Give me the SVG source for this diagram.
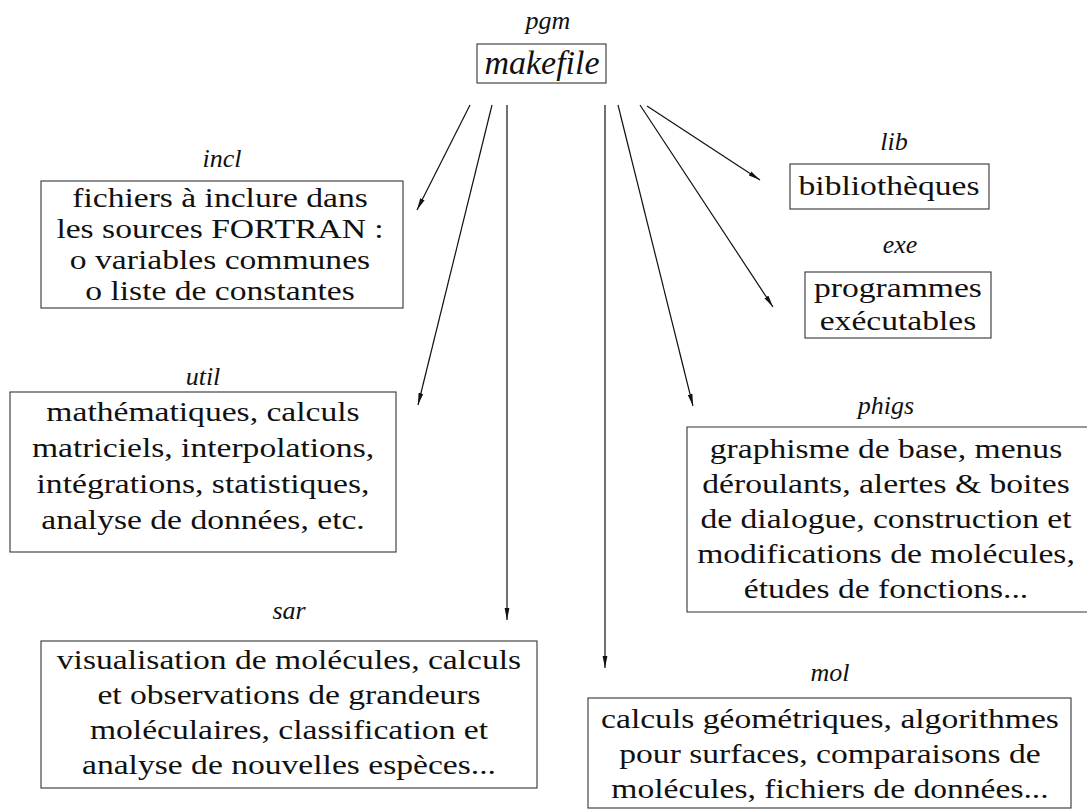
<svg xmlns="http://www.w3.org/2000/svg" width="1087" height="810" viewBox="0 0 1087 810">
<defs>
<marker id="ah" viewBox="0 0 12 6" refX="12" refY="3" markerWidth="12" markerHeight="6" markerUnits="userSpaceOnUse" orient="auto">
<path d="M0,0.6 L12,3 L0,5.4 Z" fill="#111"/>
</marker>
<style>
.box{fill:none;stroke:#333;stroke-width:1.1}
.lbl{font-family:"Liberation Serif",serif;font-style:italic;font-size:26px;fill:#111;text-anchor:middle}
.txt{font-family:"Liberation Serif",serif;font-size:28px;fill:#111;text-anchor:middle}
.big{font-family:"Liberation Serif",serif;font-style:italic;font-size:34px;fill:#111;text-anchor:middle}
.con{fill:none;stroke:#111;stroke-width:1.2;marker-end:url(#ah)}
</style>
</defs>
<rect width="1087" height="810" fill="#fff"/>
<g id="connectors">
<line class="con" x1="470" y1="105" x2="417" y2="210"/>
<line class="con" x1="492" y1="105" x2="418" y2="405"/>
<line class="con" x1="507" y1="105" x2="507" y2="620"/>
<line class="con" x1="605" y1="105" x2="605" y2="668"/>
<line class="con" x1="618" y1="105" x2="693" y2="406"/>
<line class="con" x1="640" y1="105" x2="773" y2="307"/>
<line class="con" x1="647" y1="106" x2="760" y2="180"/>
</g>
<g id="pgm">
<text class="lbl" x="548" y="29">pgm</text>
<rect class="box" x="477" y="44" width="129" height="39"/>
<text class="big" x="542" y="74">makefile</text>
</g>
<g id="incl">
<text class="lbl" x="222" y="167">incl</text>
<rect class="box" x="41" y="181" width="362" height="127"/>
<g transform="translate(220,0) scale(1.2,1)">
<text class="txt" x="0" y="207">fichiers à inclure dans</text>
<text class="txt" x="0" y="238">les sources FORTRAN :</text>
<text class="txt" x="0" y="269">o variables communes</text>
<text class="txt" x="0" y="300">o liste de constantes</text>
</g>
</g>
<g id="util">
<text class="lbl" x="203" y="385">util</text>
<rect class="box" x="10" y="392" width="386" height="160"/>
<g transform="translate(203,0) scale(1.2,1)">
<text class="txt" x="0" y="421">mathématiques, calculs</text>
<text class="txt" x="0" y="457">matriciels, interpolations,</text>
<text class="txt" x="0" y="493">intégrations, statistiques,</text>
<text class="txt" x="0" y="529">analyse de données, etc.</text>
</g>
</g>
<g id="sar">
<text class="lbl" x="289" y="619">sar</text>
<rect class="box" x="41" y="641" width="496" height="147"/>
<g transform="translate(289,0) scale(1.2,1)">
<text class="txt" x="0" y="669">visualisation de molécules, calculs</text>
<text class="txt" x="0" y="704">et observations de grandeurs</text>
<text class="txt" x="0" y="739">moléculaires, classification et</text>
<text class="txt" x="0" y="774">analyse de nouvelles espèces...</text>
</g>
</g>
<g id="lib">
<text class="lbl" x="894" y="150">lib</text>
<rect class="box" x="790" y="164" width="199" height="45"/>
<g transform="translate(889,0) scale(1.2,1)">
<text class="txt" x="0" y="195">bibliothèques</text>
</g>
</g>
<g id="exe">
<text class="lbl" x="900" y="253">exe</text>
<rect class="box" x="805" y="272" width="186" height="66"/>
<g transform="translate(898,0) scale(1.2,1)">
<text class="txt" x="0" y="297">programmes</text>
<text class="txt" x="0" y="330">exécutables</text>
</g>
</g>
<g id="phigs">
<text class="lbl" x="886" y="414">phigs</text>
<path class="box" d="M1090,427 H687 V612 H1090"/>
<g transform="translate(886,0) scale(1.2,1)">
<text class="txt" x="0" y="458">graphisme de base, menus</text>
<text class="txt" x="0" y="493">déroulants, alertes &amp; boites</text>
<text class="txt" x="0" y="528">de dialogue, construction et</text>
<text class="txt" x="0" y="563">modifications de molécules,</text>
<text class="txt" x="0" y="598">études de fonctions...</text>
</g>
</g>
<g id="mol">
<text class="lbl" x="830" y="681">mol</text>
<rect class="box" x="588" y="698" width="483" height="110"/>
<g transform="translate(830,0) scale(1.2,1)">
<text class="txt" x="0" y="728">calculs géométriques, algorithmes</text>
<text class="txt" x="0" y="763">pour surfaces, comparaisons de</text>
<text class="txt" x="0" y="798">molécules, fichiers de données...</text>
</g>
</g>
</svg>
